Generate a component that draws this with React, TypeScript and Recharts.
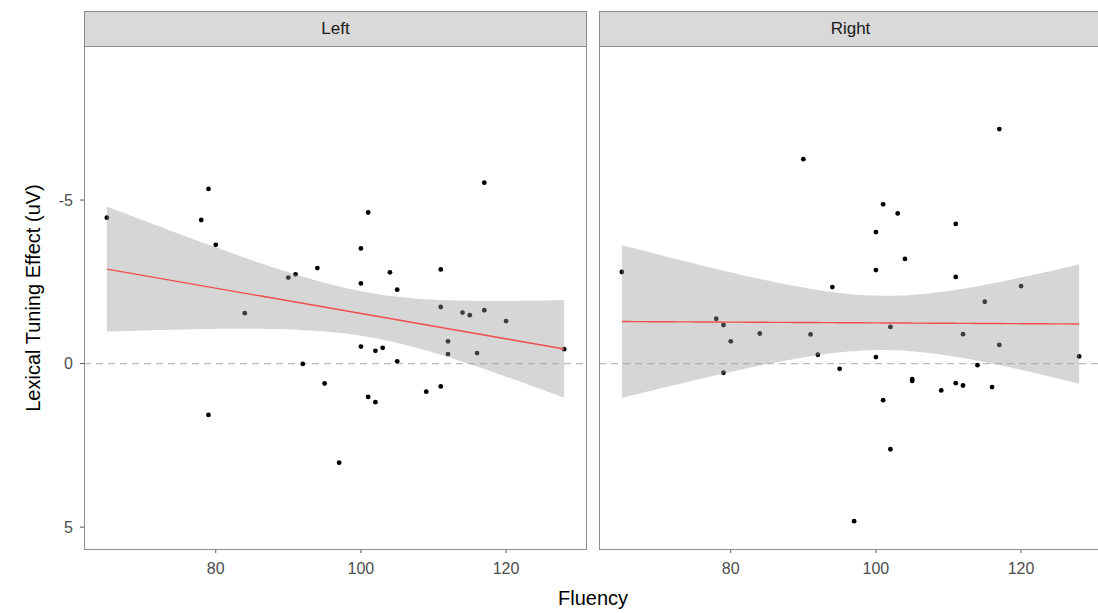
import React from "react"
import { ComposedChart, Scatter, Area, Line, XAxis, YAxis, ReferenceLine } from "recharts"

// fluency scores per participant (same set in both hemispheres)
const fluency = [
  65, 78, 79, 79, 80, 84, 90, 91, 92, 94, 95, 97, 100, 100, 100, 101, 101, 102,
  102, 103, 104, 105, 105, 109, 111, 111, 111, 112, 112, 114, 115, 116, 117, 117, 120, 128,
]

// lexical tuning effect (uV), left hemisphere
const leftEffect = [
  -4.46, -4.39, -5.34, 1.57, -3.63, -1.54, -2.63, -2.73, 0.01, -2.92, 0.61, 3.03, -3.52, -2.45,
  -0.52, -4.62, 1.02, -0.39, 1.18, -0.48, -2.79, -2.26, -0.07, 0.86, -2.88, -1.73, 0.7, -0.68,
  -0.29, -1.56, -1.48, -0.32, -5.53, -1.63, -1.3, -0.44,
]

// lexical tuning effect (uV), right hemisphere
const rightEffect = [
  -2.8, -1.37, -1.18, 0.28, -0.68, -0.92, -6.25, -0.89, -0.27, -2.34, 0.16, 4.82, -4.02, -2.86,
  -0.2, -4.87, 1.12, -1.12, 2.62, -4.59, -3.2, 0.48, 0.53, 0.82, -4.27, -2.65, 0.6, -0.9, 0.67,
  0.05, -1.89, 0.72, -7.17, -0.57, -2.37, -0.22,
]

const panels = ["Left", "Right"]
const xTicks = [80, 100, 120]
const yTicks = [-5, 0, 5]

const X_DOMAIN: [number, number] = [61.85, 131.15]
const Y_DOMAIN: [number, number] = [-9.68, 5.67]

const FONT = '"Liberation Sans", Arial, Helvetica, sans-serif'
const BORDER = "#8c8c8c"
const H = 613
const TOP = 47
const BOTTOM = 549

// t quantile (0.975) via Cornish-Fisher expansion
function tCrit(df: number) {
  const z = 1.959964
  const z3 = z * z * z
  const z5 = z3 * z * z
  return z + (z3 + z) / (4 * df) + (5 * z5 + 16 * z3 + 3 * z) / (96 * df * df)
}

// lm fit with 95% confidence band, like geom_smooth(method = "lm")
function lmBand(xs: number[], ys: number[]) {
  const n = xs.length
  const mx = xs.reduce((s, v) => s + v, 0) / n
  const my = ys.reduce((s, v) => s + v, 0) / n
  let sxx = 0
  let sxy = 0
  xs.forEach((x, i) => {
    sxx += (x - mx) * (x - mx)
    sxy += (x - mx) * (ys[i] - my)
  })
  const b = sxy / sxx
  const a = my - b * mx
  let sse = 0
  xs.forEach((x, i) => {
    const r = ys[i] - (a + b * x)
    sse += r * r
  })
  const s = Math.sqrt(sse / (n - 2))
  const t = tCrit(n - 2)
  const lo = Math.min(...xs)
  const hi = Math.max(...xs)
  const steps = 80
  const out = []
  for (let i = 0; i <= steps; i++) {
    const x = lo + ((hi - lo) * i) / steps
    const y = a + b * x
    const se = s * Math.sqrt(1 / n + ((x - mx) * (x - mx)) / sxx)
    out.push({ x, y, band: [y - t * se, y + t * se] })
  }
  return out
}

const dot = (p: any) => <circle cx={p.cx} cy={p.cy} r={2.4} fill="#000" />

const tickStyle = { fill: "#4d4d4d", fontSize: 16, fontFamily: FONT }

// bottom layer: axes, zero line and the raw points
function PointsLayer({ effect, showY, left, width }: { effect: number[]; showY: boolean; left: number; width: number }) {
  const points = fluency.map((x, i) => ({ x, y: effect[i] }))
  const yw = showY ? 30 : 0
  return (
    <div style={{ position: "absolute", left: 0, top: 0 }}>
      <ComposedChart
        width={left + width}
        height={H}
        data={points}
        margin={{ top: TOP, right: 0, bottom: H - BOTTOM - 30, left: left - yw }}
      >
        <XAxis
          type="number"
          dataKey="x"
          domain={X_DOMAIN}
          allowDataOverflow
          ticks={xTicks}
          height={30}
          axisLine={false}
          tickSize={4}
          tickMargin={10}
          tickLine={{ stroke: "#555" }}
          tick={tickStyle}
        />
        <YAxis
          type="number"
          dataKey="y"
          domain={Y_DOMAIN}
          allowDataOverflow
          reversed
          ticks={yTicks}
          hide={!showY}
          width={yw}
          axisLine={false}
          tickSize={4}
          tickMargin={7}
          tickLine={{ stroke: "#555" }}
          tick={tickStyle}
        />
        <ReferenceLine y={0} stroke="#bdbdbd" strokeWidth={1.2} strokeDasharray="7 5" />
        <Scatter data={points} shape={dot} isAnimationActive={false} />
      </ComposedChart>
    </div>
  )
}

// top layer: translucent confidence band and fitted line
function FitLayer({ effect, left, width }: { effect: number[]; left: number; width: number }) {
  const fit = lmBand(fluency, effect)
  return (
    <div style={{ position: "absolute", left: 0, top: 0, pointerEvents: "none" }}>
      <ComposedChart
        width={left + width}
        height={H}
        data={fit}
        margin={{ top: TOP, right: 0, bottom: H - BOTTOM, left }}
      >
        <XAxis type="number" dataKey="x" domain={X_DOMAIN} allowDataOverflow hide />
        <YAxis type="number" domain={Y_DOMAIN} allowDataOverflow reversed hide />
        <Area
          type="monotone"
          dataKey="band"
          stroke="none"
          fill="#999999"
          fillOpacity={0.4}
          isAnimationActive={false}
          activeDot={false}
        />
        <Line
          type="linear"
          dataKey="y"
          stroke="#f24e4e"
          strokeWidth={1.4}
          dot={false}
          activeDot={false}
          isAnimationActive={false}
        />
      </ComposedChart>
    </div>
  )
}

export default function App() {
  const boxes = [
    { left: 84, width: 503, effect: leftEffect },
    { left: 599, width: 503, effect: rightEffect },
  ]
  return (
    <div
      style={{
        position: "absolute",
        left: 0,
        top: 0,
        width: 1098,
        height: H,
        overflow: "hidden",
        background: "#fff",
        fontFamily: FONT,
      }}
    >
      {boxes.map((b, i) => (
        <React.Fragment key={panels[i]}>
          <div
            style={{
              position: "absolute",
              left: b.left,
              top: 11,
              width: b.width,
              height: 36,
              boxSizing: "border-box",
              border: `1px solid ${BORDER}`,
              background: "#d9d9d9",
              color: "#1a1a1a",
              fontSize: 17,
              lineHeight: "34px",
              textAlign: "center",
            }}
          >
            {panels[i]}
          </div>
          <PointsLayer effect={b.effect} showY={i === 0} left={b.left} width={b.width} />
          <FitLayer effect={b.effect} left={b.left} width={b.width} />
          <div
            style={{
              position: "absolute",
              left: b.left,
              top: TOP - 1,
              width: b.width,
              height: BOTTOM - TOP + 2,
              boxSizing: "border-box",
              border: `1px solid ${BORDER}`,
              pointerEvents: "none",
            }}
          />
        </React.Fragment>
      ))}
      <svg width={1098} height={H} style={{ position: "absolute", left: 0, top: 0, pointerEvents: "none" }}>
        <text x={593} y={605} textAnchor="middle" fontSize={20} fill="#000" fontFamily={FONT}>
          Fluency
        </text>
        <text
          transform="translate(40,298) rotate(-90)"
          textAnchor="middle"
          fontSize={20}
          fill="#000"
          fontFamily={FONT}
        >
          Lexical Tuning Effect (uV)
        </text>
      </svg>
    </div>
  )
}
